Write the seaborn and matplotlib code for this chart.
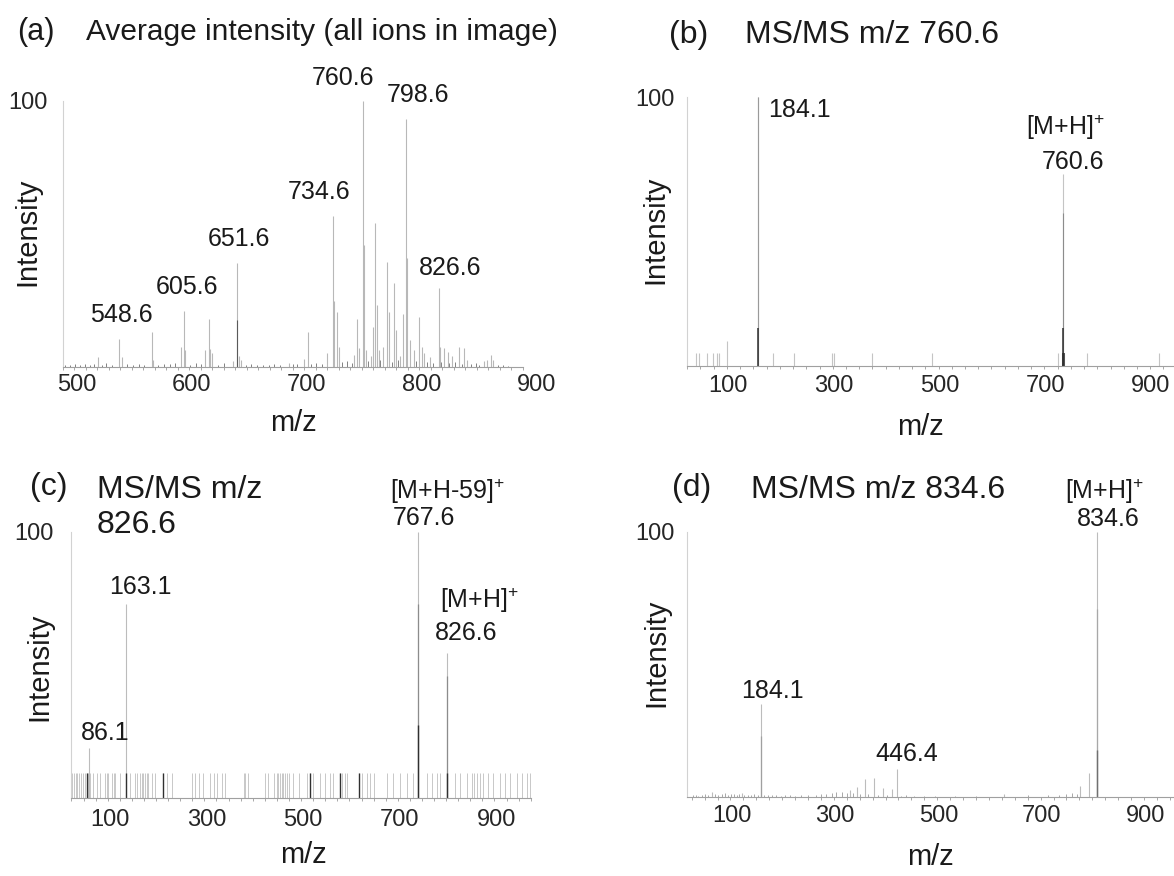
import matplotlib
matplotlib.use('Agg')
import matplotlib.pyplot as plt
import matplotlib.transforms as mtransforms
from matplotlib.ticker import MultipleLocator
import seaborn as sns

# (a) average spectrum, m/z 500-900
a_mz = [530.9, 548.6, 551.7, 577.7, 578.6, 603.0, 605.6, 606.6, 623.3, 627.2,
        628.2, 630.0, 648.0, 651.6, 653.6, 655.0, 696.4, 710.0, 712.9, 730.0,
        734.6, 735.6, 738.8, 739.8, 753.2, 756.1, 757.4, 760.6, 761.6, 763.5,
        767.6, 769.6, 771.6, 772.8, 775.0, 778.5, 782.0, 783.7, 788.0, 789.5,
        793.0, 795.4, 798.6, 799.6, 802.0, 805.5, 809.9, 812.0, 814.2, 819.4,
        826.6, 827.6, 831.0, 834.5, 838.0, 844.7, 849.0, 851.0, 866.0, 869.0,
        872.5, 874.0]
a_int = [3.5, 10.3, 3.5, 13.2, 2.5, 7.3, 21.0, 6.3, 6.3, 17.9,
         6.5, 5.0, 2.0, 38.8, 4.0, 2.5, 1.3, 2.8, 13.2, 5.0,
         56.5, 24.8, 20.7, 7.5, 4.4, 17.8, 6.9, 100.0, 45.6, 6.3,
         4.0, 14.8, 54.0, 23.2, 6.3, 7.5, 39.4, 20.7, 31.3, 13.8,
         4.0, 20.0, 93.0, 41.0, 10.0, 6.3, 18.8, 7.5, 5.0, 3.8,
         29.4, 7.3, 6.9, 5.6, 4.0, 7.3, 6.9, 2.5, 2.1, 2.5,
         4.4, 2.5]
a_noise_mz = [502, 506, 511, 515, 519, 524, 527, 534, 538, 543,
              556, 561, 566, 571, 583, 588, 593, 598, 611, 616,
              620, 635, 640, 659, 664, 669, 674, 679, 684, 689,
              700, 704, 716, 720, 725, 743, 747, 751, 765, 776,
              786, 791, 807, 817, 822, 829, 836, 841, 847, 855,
              859, 862, 878, 883, 887]
a_noise_int = [0.8, 0.5, 1.0, 0.6, 0.9, 0.5, 1.2, 0.7, 1.5, 0.8,
               0.9, 0.6, 1.1, 0.7, 0.8, 1.2, 0.9, 1.4, 0.7, 1.3,
               1.0, 0.8, 1.5, 0.6, 0.9, 0.5, 0.8, 0.6, 1.0, 0.5,
               0.9, 1.2, 1.1, 1.4, 1.0, 1.6, 2.0, 1.5, 2.2, 2.5,
               1.8, 2.4, 2.1, 1.7, 1.5, 1.9, 1.3, 1.6, 1.2, 1.0,
               1.4, 0.8, 0.6, 0.5, 0.4]
a_dark_mz = [651.6]
a_dark_int = [17.5]
a_labels = ['548.6', '605.6', '651.6', '734.6', '760.6', '798.6', '826.6']

# (b) MS/MS of m/z 760.6
b_mz = [66.4, 72.6, 86.6, 98.5, 105.5, 110.5, 125.5, 184.1, 212.5, 252.0,
        322.8, 327.2, 399.7, 513.0, 751.0, 757.5, 760.6, 762.0, 805.0, 942.0]
b_int = [4.7, 4.7, 4.7, 4.7, 4.7, 4.7, 9.4, 100.0, 4.7, 4.7,
         4.7, 4.7, 4.7, 4.7, 4.7, 5.0, 71.6, 5.0, 4.7, 4.7]
b_mid_mz = [184.1, 760.6]
b_mid_int = [100.0, 57.0]
b_dark_mz = [184.1, 760.6, 759.9, 761.3]
b_dark_int = [14.0, 14.0, 5.0, 5.0]

# (c) MS/MS of m/z 826.6
c_mz = [86.1, 163.1, 767.6, 826.6]
c_int = [18.75, 72.9, 100.0, 54.4]
c_grass_mz = [48, 52, 55, 59, 62, 66, 69, 73, 77, 82, 85, 88, 95, 102, 109,
              120, 123, 126, 133, 137, 140, 151, 171, 182, 185, 192, 195, 199,
              202, 206, 209, 216, 223, 240, 247, 257, 299, 306, 313, 323, 337,
              344, 351, 361, 368, 406, 409, 416, 450, 457, 468, 475, 478, 482,
              485, 488, 492, 495, 499, 509, 520, 537, 544, 550, 564, 575, 585,
              592, 606, 609, 616, 619, 644, 650, 661, 668, 675, 702, 716, 730,
              744, 757, 785, 795, 806, 813, 844, 854, 868, 878, 882, 888, 895,
              902, 912, 923, 937, 947, 957, 971, 981, 992, 999]
c_grass_height = 9.2
c_mid_mz = [767.6, 826.6]
c_mid_int = [73.0, 45.6]
c_dark_mz = [767.6, 826.6, 163.1, 82, 240, 544, 606, 644]
c_dark_int = [27.5, 9.4, 9.2, 9.2, 9.2, 9.2, 9.2, 9.2]

# (d) MS/MS of m/z 834.6
d_mz = [88.8, 147.0, 184.1, 357.0, 369.0, 385.0, 402.0, 420.0, 438.0, 446.4,
        654.0, 801.0, 819.0, 834.6]
d_int = [1.9, 1.5, 35.2, 2.8, 3.8, 6.7, 7.1, 3.5, 3.1, 10.7,
         1.3, 4.0, 8.9, 100.0]
d_noise_mz = [52, 58, 63, 70, 76, 82, 95, 101, 108, 114, 120, 126, 131, 137,
              142, 152, 158, 165, 171, 178, 190, 198, 206, 214, 222, 230, 240,
              250, 262, 275, 290, 300, 310, 322, 330, 340, 350, 362, 375, 392,
              410, 428, 455, 465, 480, 500, 520, 560, 600, 700, 740, 760, 775,
              785, 795]
d_noise_int = [0.6, 0.9, 0.5, 0.8, 1.1, 0.7, 1.0, 0.8, 1.2, 1.4, 0.9, 1.3, 1.0,
               0.8, 1.1, 0.7, 0.9, 0.6, 1.0, 0.8, 0.7, 0.9, 0.6, 0.8, 0.5, 0.7,
               0.6, 0.5, 0.8, 0.9, 0.7, 1.0, 1.2, 1.5, 1.8, 2.0, 1.6, 1.4, 1.2,
               1.0, 0.9, 0.8, 0.5, 0.6, 0.4, 0.5, 0.4, 0.4, 0.5, 0.6, 0.8, 0.7,
               1.0, 1.5, 1.2]
d_mid_mz = [834.6, 184.1]
d_mid_int = [71.0, 23.0]
d_dark_mz = [834.6]
d_dark_int = [17.6]

sns.set_theme(style='white')
plt.rcParams['font.family'] = ['Liberation Sans', 'DejaVu Sans']
plt.rcParams['mathtext.fontset'] = 'custom'
plt.rcParams['mathtext.rm'] = 'Liberation Sans'
plt.rcParams['mathtext.default'] = 'rm'
plt.rcParams['text.color'] = '#1a1a1a'

W, H = 1174, 876
fig = plt.figure(figsize=(W / 100, H / 100), dpi=100)
LIGHT, MID, DARK = '#bcbcbc', '#8c8c8c', '#303030'


def box(left, right, top, bottom):
    return fig.add_axes([left / W, 1 - bottom / H, (right - left) / W, (bottom - top) / H])


def ftext(x, y, s, **kw):
    fig.text(x / W, 1 - y / H, s, **kw)


def setup(ax, xlim, majors, minor, ypad, xpad):
    ax.set_xlim(*xlim)
    ax.set_ylim(0, 100)
    ax.set_xticks(majors)
    ax.set_xticklabels([str(m) for m in majors])
    ax.xaxis.set_minor_locator(MultipleLocator(minor))
    ax.set_yticks([100])
    ax.set_yticklabels(['100'])
    ax.tick_params(axis='x', which='both', direction='out', length=2.5, width=0.6,
                   color='#9a9a9a', labelsize=17, pad=xpad, bottom=True)
    ax.tick_params(axis='y', length=0, labelsize=17, pad=ypad, left=True)
    sns.despine(ax=ax)
    ax.spines['left'].set_color('#d2d2d2')
    ax.spines['left'].set_linewidth(0.8)
    ax.spines['bottom'].set_color('#a0a0a0')
    ax.spines['bottom'].set_linewidth(0.8)
    ax.set_facecolor('none')
    # tick labels sit a little right of their ticks in the original
    shift = mtransforms.ScaledTranslation(0.14, 0, fig.dpi_scale_trans)
    for lab in ax.get_xticklabels():
        lab.set_transform(lab.get_transform() + shift)


def label(ax, text, mz, inten, dx, dy, ha='center'):
    ax.annotate(text, xy=(mz, inten), xytext=(dx, dy), textcoords='offset pixels',
                ha=ha, va='center', fontsize=18)


# ---- (a)
ax_a = box(62.7, 523, 100.7, 366.7)
ax_a.vlines(a_noise_mz, 0, a_noise_int, colors='#6e6e6e', linewidth=0.6)
ax_a.vlines(a_mz, 0, a_int, colors='#b8b8b8', linewidth=0.8)
ax_a.vlines(a_dark_mz, 0, a_dark_int, colors='#5a5a5a', linewidth=0.8)
setup(ax_a, (500, 900), [500, 600, 700, 800, 900], 10, 10.8, 2.5)
a_peak = dict(zip(a_mz, a_int))
a_off = {'548.6': (3, 24), '605.6': (3, 24), '651.6': (2, 24), '734.6': (-14, 24),
         '760.6': (-20, 23), '798.6': (12, 24), '826.6': (12, 20)}
for t in a_labels:
    label(ax_a, t, float(t), a_peak[float(t)], *a_off[t])

# ---- (b)
ax_b = box(686.7, 1189.9, 97.3, 366)
ax_b.vlines(b_mz, 0, b_int, colors='#c4c4c4', linewidth=0.8)
ax_b.vlines(b_mid_mz, 0, b_mid_int, colors=['#9a9a9a', MID], linewidth=0.8)
ax_b.vlines(b_dark_mz, 0, b_dark_int, colors=DARK, linewidth=1.1)
setup(ax_b, (49, 1000), [100, 300, 500, 700, 900], 25, 8.6, 4)
label(ax_b, '184.1', 184.1, 100, 10, -13, ha='left')
label(ax_b, '760.6', 760.6, 71.6, 10, 12)
label(ax_b, '[M+H]$^{+}$', 760.6, 71.6, 2, 46)

# ---- (c)
ax_c = box(70.5, 530.7, 531.7, 797.7)
ax_c.vlines(c_grass_mz, 0, c_grass_height, colors='#c8c8c8', linewidth=0.7)
ax_c.vlines(c_mz, 0, c_int, colors=LIGHT, linewidth=0.8)
ax_c.vlines(c_mid_mz, 0, c_mid_int, colors=MID, linewidth=0.9)
ax_c.vlines(c_dark_mz, 0, c_dark_int, colors=DARK, linewidth=1.0)
setup(ax_c, (48, 1000), [100, 300, 500, 700, 900], 25, 12, 5.5)
label(ax_c, '86.1', 86.1, 18.75, 16, 15)
label(ax_c, '163.1', 163.1, 72.9, 14, 17)
label(ax_c, '767.6', 767.6, 100, 6, 14)
label(ax_c, '[M+H-59]$^{+}$', 767.6, 100, 29, 40)
label(ax_c, '826.6', 826.6, 54.4, 19, 20)
label(ax_c, '[M+H]$^{+}$', 826.6, 54.4, 33, 53)

# ---- (d)
ax_d = box(686.5, 1182.8, 531.7, 797)
ax_d.vlines(d_noise_mz, 0, d_noise_int, colors='#9a9a9a', linewidth=0.6)
ax_d.vlines(d_mz, 0, d_int, colors=LIGHT, linewidth=0.8)
ax_d.vlines(d_mid_mz, 0, d_mid_int, colors=['#a8a8a8', '#a0a0a0'], linewidth=0.9)
ax_d.vlines(d_dark_mz, 0, d_dark_int, colors='#707070', linewidth=1.0)
setup(ax_d, (40, 1000), [100, 300, 500, 700, 900], 25, 8.6, 3)
label(ax_d, '184.1', 184.1, 35.2, 11, 13)
label(ax_d, '446.4', 446.4, 10.7, 10, 15)
label(ax_d, '834.6', 834.6, 100, 11, 13)
label(ax_d, '[M+H]$^{+}$', 834.6, 100, 7, 40)

# titles, axis labels
ftext(36, 32, '(a)', fontsize=22, ha='center', va='center')
ftext(85.8, 32, 'Average intensity (all ions in image)', fontsize=21.5, ha='left', va='center')
ftext(689, 35, '(b)', fontsize=23, ha='center', va='center')
ftext(744.6, 35, 'MS/MS m/z 760.6', fontsize=23, ha='left', va='center')
ftext(49, 487, '(c)', fontsize=23, ha='center', va='center')
ftext(97, 490, 'MS/MS m/z', fontsize=23, ha='left', va='center')
ftext(97, 525, '826.6', fontsize=23, ha='left', va='center')
ftext(692, 488, '(d)', fontsize=23, ha='center', va='center')
ftext(751, 490, 'MS/MS m/z 834.6', fontsize=23, ha='left', va='center')

for x, y in [(27, 232), (655, 230), (39, 667), (656, 653)]:
    ftext(x, y, 'Intensity', fontsize=21, rotation=90, ha='center', va='center')
for x, y in [(293, 423), (920, 427), (303, 855), (930, 857)]:
    ftext(x, y, 'm/z', fontsize=21, ha='center', va='center')

fig.savefig('out.png', dpi=100, facecolor='white')
